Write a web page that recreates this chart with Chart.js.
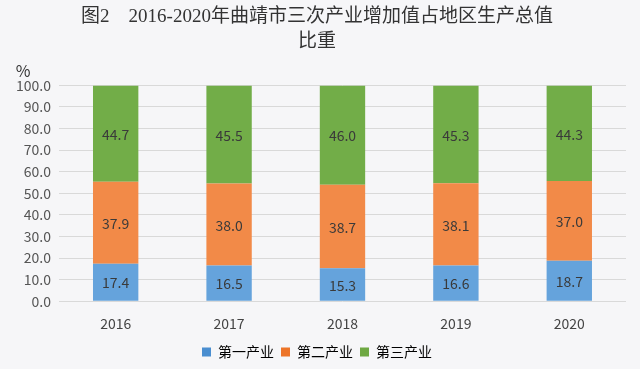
<!DOCTYPE html>
<html>
<head>
<meta charset="utf-8">
<script src="https://cdn.jsdelivr.net/npm/chart.js@4.4.1/dist/chart.umd.min.js"></script>
<style>
    html, body { margin: 0; padding: 0; background: #f6f6f8; }
    #wrap { width: 640px; height: 369px; position: relative; }
</style>
</head>
<body>
<div id="wrap"><canvas id="myChart"></canvas></div>
<script>
// categories + values
const years = ['2016', '2017', '2018', '2019', '2020'];
const primary = [17.4, 16.5, 15.3, 16.6, 18.7];
const secondary = [37.9, 38.0, 38.7, 38.1, 37.0];
const tertiary = [44.7, 45.5, 46.0, 45.3, 44.3];
const seriesNames = ['第一产业', '第二产业', '第三产业'];
const yTicks = [0, 10, 20, 30, 40, 50, 60, 70, 80, 90, 100];

const cjk = '"Noto Sans CJK SC", "Noto Sans", sans-serif';

// vertical gradient inside each bar piece
const grad = (top, bottom) => (c) => {
    const el = c.element;
    if (!el || el.base === undefined) return top;
    const g = c.chart.ctx.createLinearGradient(0, el.y, 0, el.base);
    g.addColorStop(0, top);
    g.addColorStop(1, bottom);
    return g;
};

// values written in the middle of each segment
const segLabels = {
    id: 'segLabels',
    afterDatasetsDraw(chart) {
        const ctx = chart.ctx;
        ctx.save();
        ctx.font = '14px ' + cjk;
        ctx.textAlign = 'center';
        ctx.textBaseline = 'middle';
        chart.data.datasets.forEach((ds, i) => {
            chart.getDatasetMeta(i).data.forEach((bar, j) => {
                ctx.fillStyle = '#3a3a3a';
                ctx.fillText(ds.data[j].toFixed(1), bar.x, (bar.y + bar.base) / 2 + 1);
            });
        });
        ctx.restore();
    }
};

// "%" unit above the y axis
const unitLabel = {
    id: 'unitLabel',
    afterDraw(chart) {
        const ctx = chart.ctx;
        ctx.save();
        ctx.font = '16px ' + cjk;
        ctx.fillStyle = '#333';
        ctx.textAlign = 'center';
        ctx.fillText('%', 23, 71);
        ctx.restore();
    }
};

new Chart(document.getElementById('myChart'), {
    type: 'bar',
    data: {
        labels: years,
        datasets: [
            { label: seriesNames[0], data: primary, backgroundColor: grad('#65a3dc', '#3d82c6'), legendColor: '#4a8ed0' },
            { label: seriesNames[1], data: secondary, backgroundColor: grad('#f28a48', '#e2661b'), legendColor: '#ed7428' },
            { label: seriesNames[2], data: tertiary, backgroundColor: grad('#72ad48', '#6aa63f'), legendColor: '#6ea843' }
        ]
    },
    options: {
        responsive: true,
        maintainAspectRatio: false,
        animation: false,
        layout: { padding: { left: 8, right: 14, top: 0, bottom: 0 } },
        datasets: { bar: { categoryPercentage: 1.0, barPercentage: 0.4 } },
        plugins: {
            title: {
                display: true,
                text: ['图2　2016-2020年曲靖市三次产业增加值占地区生产总值', '比重'],
                color: '#333',
                font: { family: '"Liberation Serif", ' + cjk, size: 19, weight: 'normal', lineHeight: 1.3 },
                padding: { top: 5, bottom: 31 }
            },
            legend: {
                position: 'bottom',
                labels: {
                    boxWidth: 9, boxHeight: 9, padding: 7,
                    color: '#555',
                    font: { family: cjk, size: 14 },
                    generateLabels: (chart) => chart.data.datasets.map((ds, i) => ({
                        text: ds.label, fillStyle: ds.legendColor, strokeStyle: ds.legendColor,
                        lineWidth: 0, datasetIndex: i
                    }))
                }
            },
            tooltip: { enabled: false }
        },
        scales: {
            x: {
                stacked: true,
                grid: { display: false },
                border: { display: false },
                ticks: { color: '#444', font: { family: cjk, size: 14 }, padding: 6 }
            },
            y: {
                stacked: true,
                min: 0, max: 100,
                afterBuildTicks: (axis) => { axis.ticks = yTicks.map(v => ({ value: v })); },
                grid: { color: '#d9d9d9', drawTicks: false },
                border: { display: false },
                ticks: { color: '#555', font: { family: cjk, size: 14 }, padding: 8,
                    callback: (v) => Number(v).toFixed(1) }
            }
        }
    },
    plugins: [segLabels, unitLabel]
});
</script>
</body>
</html>
